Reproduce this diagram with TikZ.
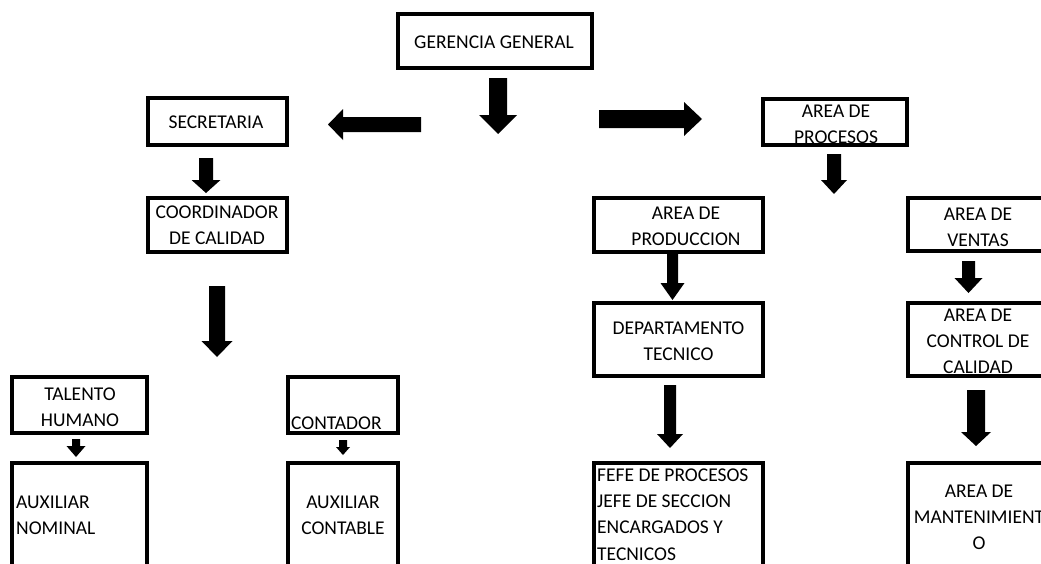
\documentclass[tikz,border=0pt]{standalone}
\usepackage{fontspec}
\setmainfont{Carlito}
\newcommand\arrdown[6]{% x, ytop, ybase, ytip, halfshaft, halfhead
  \fill[black] ({#1-#5},#2) -- ({#1+#5},#2) -- ({#1+#5},#3) -- ({#1+#6},#3) -- (#1,#4) -- ({#1-#6},#3) -- ({#1-#5},#3) -- cycle;}
\newcommand\arrhoriz[6]{% y, xstart, xbase, xtip, halfshaft, halfhead
  \fill[black] (#2,{#1-#5}) -- (#2,{#1+#5}) -- (#3,{#1+#5}) -- (#3,{#1+#6}) -- (#4,#1) -- (#3,{#1-#6}) -- (#3,{#1-#5}) -- cycle;}
\tikzset{
  boxline/.style={draw=black, line width=3.2pt, line join=miter},
  lbl/.style={align=center, inner sep=0pt, font=\fontsize{19.5}{26.3}\selectfont},
  lbll/.style={lbl, align=left, anchor=west},
}
\begin{document}
\begin{tikzpicture}[x=1pt,y=-1pt]
\useasboundingbox (0,0) rectangle (1041,563);
\fill[white] (0,0) rectangle (1041,563);
\clip (0,0) rectangle (1041,563);
% boxes
\draw[boxline] (398,14) rectangle (592,68);
\draw[boxline] (148,98) rectangle (287,145);
\draw[boxline] (148,198) rectangle (287,252);
\draw[boxline] (763,99) rectangle (907,145);
\draw[boxline] (594,198) rectangle (763,252);
\draw[boxline] (908,198) rectangle (1050,251);
\draw[boxline] (594,303) rectangle (763,376);
\draw[boxline] (908,303) rectangle (1050,376);
\draw[boxline] (12,377) rectangle (147,433);
\draw[boxline] (288,377) rectangle (398,433);
\draw[boxline] (12,575) -- (12,463) -- (147,463) -- (147,575);
\draw[boxline] (288,575) -- (288,463) -- (398,463) -- (398,575);
\draw[boxline] (594,575) -- (594,463) -- (763,463) -- (763,575);
\draw[boxline] (908,575) -- (908,463) -- (1050,463) -- (1050,575);
% labels
\node[lbl] (ger) at (494,42) {GERENCIA GENERAL};
\node[lbl] (sec) at (216,122) {SECRETARIA};
\node[lbl] (coord) at (217,225.5) {COORDINADOR\\DE CALIDAD};
\node[lbl] (proc) at (836,124.5) {AREA DE\\PROCESOS};
\node[lbl] (prod) at (686,226) {AREA DE\\PRODUCCION};
\node[lbl] (vent) at (978,227.5) {AREA DE\\VENTAS};
\node[lbl] (dep) at (678.5,341) {DEPARTAMENTO\\TECNICO};
\node[lbl] (ctrl) at (978,341.5) {AREA DE\\CONTROL DE\\CALIDAD};
\node[lbl] (tal) at (80,407) {TALENTO\\HUMANO};
\node[lbll] (cont) at (291,423) {CONTADOR};
\node[lbll] (auxn) at (16,515.5) {AUXILIAR\\NOMINAL};
\node[lbl] (auxc) at (343,515.5) {AUXILIAR\\CONTABLE};
\node[lbll] (fefe) at (597,514.5) {FEFE DE PROCESOS\\JEFE DE SECCION\\ENCARGADOS Y\\TECNICOS};
\node[lbl] (mant) at (979,517.5) {AREA DE\\MANTENIMIENT\\O};
% block arrows
\arrdown{498}{78}{115}{134}{9}{19}
\arrhoriz{124.5}{421}{343}{328}{7.5}{15.5}
\arrhoriz{119}{599}{684}{702}{9}{17}
\arrdown{206}{158}{180}{193}{7}{14.5}
\arrdown{834}{154}{180}{194}{7}{13}
\arrdown{217}{286}{341}{357}{8}{15.5}
\arrdown{76}{439}{446}{457}{4}{9.5}
\arrdown{343}{440}{447}{455}{4}{7}
\arrdown{672.5}{254}{283}{300}{5.5}{12}
\arrdown{670}{385}{434}{448}{6}{13}
\arrdown{968.5}{261}{278}{293}{6.5}{14}
\arrdown{976}{390}{432}{446}{9}{15}
\end{tikzpicture}
\end{document}
